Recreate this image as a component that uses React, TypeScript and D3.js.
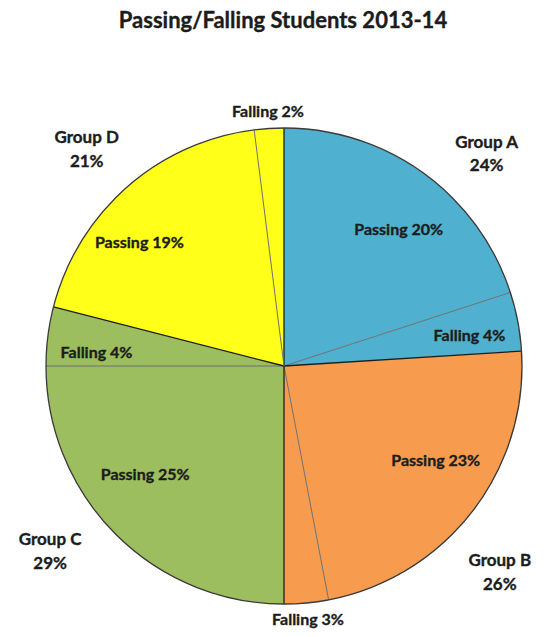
import React from "react";
import * as d3 from "d3";

const groups = ["Group A", "Group B", "Group C", "Group D"];
const groupTotals = [24, 26, 29, 21];
const passing = [20, 23, 25, 19];
const falling = [4, 3, 4, 2];
const colors = ["#4FB1CF", "#F79C4E", "#9DBE5E", "#FFFF1A"];
const title = "Passing/Falling Students 2013-14";

// label layout tweaks (degrees shift, radius factor)
const passShift = [4, -6, 7, -8];
const passR = [0.75, 0.75, 0.74, 0.8];
const fallShift = [1.5, 0, -3, 0];

const W = 548, H = 637;
const cx = 284, cy = 366, R = 238;

type Slice = { group: number; kind: "Passing" | "Falling"; value: number };
const slices: Slice[] = [];
groups.forEach((_, i) => {
  slices.push({ group: i, kind: "Passing", value: passing[i] });
  slices.push({ group: i, kind: "Falling", value: falling[i] });
});

export default function App() {
  const pie = d3.pie<Slice>().sort(null).value((d) => d.value);
  const arcs = pie(slices);
  const arcGen = d3.arc<d3.PieArcDatum<Slice>>().innerRadius(0).outerRadius(R);
  const groupPie = d3.pie<number>().sort(null)(groupTotals);

  const polar = (ang: number, r: number): [number, number] => [
    Math.sin(ang) * r,
    -Math.cos(ang) * r,
  ];
  const font = "Lato, 'Open Sans', sans-serif";
  const txt = "#1c1c1c";
  const thick = { stroke: txt, strokeWidth: 0.35 };

  return (
    <svg width={W} height={H} style={{ position: "absolute", left: 0, top: 0 }}>
      <rect width={W} height={H} fill="#fff" />
      <text x={283} y={28} textAnchor="middle" fontFamily={font} fontWeight="bold" fontSize={22} fill={txt} {...thick}>
        {title}
      </text>
      <g transform={`translate(${cx},${cy})`}>
        {arcs.map((a, i) => (
          <path key={i} d={arcGen(a) || ""} fill={colors[a.data.group]} stroke="none" />
        ))}
        {arcs.map((a, i) => {
          const [x, y] = polar(a.startAngle, R);
          const isGroup = a.data.kind === "Passing";
          return (
            <line key={"l" + i} x1={0} y1={0} x2={x} y2={y}
              stroke={isGroup ? "#1e1e1e" : "#6f6f6f"} strokeWidth={isGroup ? 1.3 : 1} />
          );
        })}
        <circle r={R} fill="none" stroke="#3a3a3a" strokeWidth={1.3} />
        {arcs.map((a, i) => {
          const g = a.data.group;
          const mid = (a.startAngle + a.endAngle) / 2;
          let x: number, y: number;
          if (a.data.kind === "Passing") {
            [x, y] = polar(mid + (passShift[g] * Math.PI) / 180, R * passR[g]);
          } else if (a.data.value < 3.5) {
            [x, y] = polar(mid, R + 17);
          } else {
            [x, y] = polar(mid + (fallShift[g] * Math.PI) / 180, R * 0.79);
          }
          return (
            <text key={"t" + i} x={x} y={y} dy="0.35em" textAnchor="middle" fontFamily={font}
              fontWeight="bold" fontSize={16} fill={txt} {...thick}>
              {`${a.data.kind} ${a.data.value}%`}
            </text>
          );
        })}
        {groupPie.map((g, i) => {
          const mid = (g.startAngle + g.endAngle) / 2 + (i === 3 ? -4 * Math.PI / 180 : 0);
          const [x, y] = polar(mid, R + 58);
          return (
            <text key={"g" + i} x={x} y={y} textAnchor="middle" fontFamily={font}
              fontWeight="bold" fontSize={17} fill={txt} {...thick}>
              <tspan x={x} dy="-0.15em">{groups[i]}</tspan>
              <tspan x={x} dy="1.4em">{`${groupTotals[i]}%`}</tspan>
            </text>
          );
        })}
      </g>
    </svg>
  );
}
